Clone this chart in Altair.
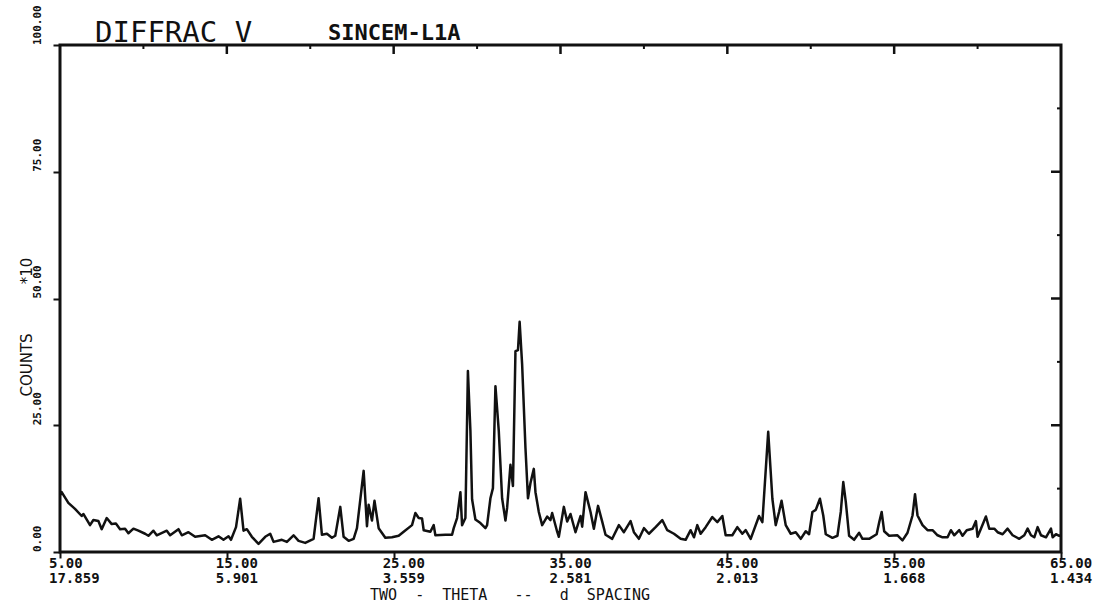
import altair as alt
import pandas as pd

# Diffraction trace: two-theta (degrees) and counts (x10)
two_theta = [
    5.0, 5.1, 5.5, 5.9, 6.3, 6.4, 6.8, 7.0, 7.3, 7.5, 7.8, 8.1, 8.35, 8.6, 8.9,
    9.1, 9.4, 9.7, 10.1, 10.3, 10.6, 10.8, 11.4, 11.6, 12.1, 12.3, 12.7, 13.1,
    13.7, 14.1, 14.5, 14.8, 15.1, 15.25, 15.55, 15.8, 16.0, 16.2, 16.5, 16.9,
    17.3, 17.6, 17.8, 18.3, 18.6, 19.0, 19.3, 19.7, 20.2, 20.5, 20.7, 21.0,
    21.3, 21.5, 21.8, 22.0, 22.3, 22.6, 22.8, 23.2, 23.4, 23.5, 23.7, 23.85,
    24.1, 24.5, 24.9, 25.3, 25.6, 26.1, 26.3, 26.5, 26.7, 26.8, 27.2, 27.4,
    27.5, 28.1, 28.5, 28.6, 28.8, 29.0, 29.1, 29.3, 29.45, 29.6, 29.7, 29.9,
    30.2, 30.5, 30.6, 30.8, 30.95, 31.1, 31.3, 31.5, 31.7, 31.8, 32.0, 32.15,
    32.3, 32.45, 32.55, 32.7, 32.9, 33.05, 33.2, 33.4, 33.5, 33.7, 33.9, 34.2,
    34.4, 34.5, 34.8, 34.9, 35.2, 35.4, 35.6, 35.9, 36.2, 36.3, 36.5, 36.8,
    37.0, 37.25, 37.5, 37.7, 38.1, 38.5, 38.8, 39.2, 39.4, 39.7, 40.0, 40.3,
    40.7, 41.1, 41.4, 41.8, 42.2, 42.5, 42.8, 43.0, 43.2, 43.4, 43.7, 44.1,
    44.4, 44.7, 44.9, 45.3, 45.6, 45.9, 46.1, 46.4, 46.9, 47.1, 47.45, 47.7,
    47.9, 48.1, 48.25, 48.5, 48.8, 49.1, 49.4, 49.7, 49.9, 50.1, 50.3, 50.55,
    50.75, 50.9, 51.3, 51.6, 51.8, 51.95, 52.1, 52.3, 52.6, 52.9, 53.1, 53.5,
    53.95, 54.1, 54.25, 54.4, 54.7, 55.2, 55.5, 55.8, 56.1, 56.25, 56.4, 56.7,
    57.0, 57.3, 57.6, 57.9, 58.2, 58.4, 58.6, 58.9, 59.1, 59.35, 59.7, 59.9,
    60.0, 60.2, 60.5, 60.7, 61.0, 61.2, 61.5, 61.8, 62.1, 62.5, 62.8, 63.0,
    63.2, 63.4, 63.6, 63.8, 64.1, 64.4, 64.5, 64.7, 64.9, 65.0,
]
counts = [
    11.2, 11.8, 9.7, 8.5, 7.1, 7.5, 5.3, 6.3, 6.1, 4.5, 6.7, 5.5, 5.6, 4.5, 4.6,
    3.7, 4.6, 4.2, 3.6, 3.2, 4.2, 3.3, 4.2, 3.3, 4.5, 3.3, 3.9, 3.0,
    3.3, 2.4, 3.1, 2.4, 3.1, 2.4, 4.9, 10.5, 4.2, 4.5, 3.0, 1.6,
    3.0, 3.6, 2.0, 2.4, 2.0, 3.3, 2.2, 1.8, 2.6, 10.6, 3.4, 3.6,
    2.8, 3.2, 8.9, 3.0, 2.2, 2.6, 4.7, 16.0, 5.1, 9.3, 6.2, 10.1,
    4.7, 2.8, 2.9, 3.2, 4.0, 5.3, 7.7, 6.7, 6.6, 4.3, 4.0, 5.3,
    3.3, 3.4, 3.4, 4.7, 6.7, 11.8, 5.3, 6.7, 35.7, 23.9, 10.4, 6.4,
    5.7, 4.7, 5.3, 10.6, 12.6, 32.7, 23.9, 10.6, 6.2, 8.7, 17.2, 13.0,
    39.6, 39.8, 45.4, 37.0, 20.5, 10.6, 13.6, 16.4, 11.8, 7.9, 5.3, 7.0,
    6.3, 7.7, 4.0, 3.0, 8.9, 6.0, 7.5, 3.9, 7.1, 5.0, 11.8, 7.9,
    4.6, 9.1, 6.0, 3.4, 2.6, 5.3, 3.9, 6.1, 3.9, 2.6, 4.7, 3.6,
    4.9, 6.3, 4.3, 3.6, 2.6, 2.4, 4.3, 2.9, 5.3, 3.6, 4.9, 6.9,
    5.9, 7.1, 3.3, 3.3, 4.9, 3.6, 4.3, 2.6, 7.1, 5.9, 23.7, 10.5,
    5.3, 7.9, 10.1, 5.3, 3.6, 3.9, 2.6, 4.1, 3.5, 7.9, 8.3, 10.5,
    7.2, 3.5, 2.8, 3.2, 7.9, 13.8, 9.9, 3.2, 2.4, 3.8, 2.6, 2.6,
    3.5, 5.8, 7.9, 4.1, 3.2, 3.3, 2.3, 3.8, 7.2, 11.4, 7.2, 5.3,
    4.3, 4.3, 3.3, 2.9, 2.9, 4.3, 3.3, 4.3, 3.2, 4.3, 4.6, 6.1,
    3.0, 4.6, 7.0, 4.6, 4.6, 3.9, 3.5, 4.6, 3.3, 2.6, 3.3, 4.6,
    3.3, 2.9, 4.9, 3.3, 2.9, 4.6, 2.9, 3.5, 3.2, 3.3,
]

# Bottom axis: two-theta ticks with matching d-spacing (angstrom)
theta_ticks = [5, 15, 25, 35, 45, 55, 65]
theta_labels = ["5.00", "15.00", "25.00", "35.00", "45.00", "55.00", "65.00"]
d_spacing = ["17.859", "5.901", "3.559", "2.581", "2.013", "1.668", "1.434"]

# Top frame ticks
top_major = [15, 25, 35, 45, 55]
top_minor = [10, 20, 30, 40, 50, 60]

# Left axis ticks and right frame ticks
count_ticks = [0, 25, 50, 75, 100]
count_labels = ["0.00", "25.00", "50.00", "75.00", "100.00"]
right_major = [25, 50, 75]
right_minor = [12.5, 37.5, 62.5, 87.5]

W, H = 1001, 507
INK = "#111111"
MONO = "DejaVu Sans Mono"
NB = "\u00a0"  # non-breaking space keeps the wide plotter spacing in SVG text

xs = alt.Scale(domain=[5, 65], nice=False, zero=False)
ys = alt.Scale(domain=[0, 100], nice=False, zero=True)
x_axis = alt.Axis(values=theta_ticks, labels=False, title=None, grid=False,
                  domain=False, tickSize=6, tickWidth=2, tickColor=INK)
y_axis = alt.Axis(values=count_ticks, labels=False, title=None, grid=False,
                  domain=False, tickSize=7, tickWidth=2, tickColor=INK)
X = alt.X("two_theta:Q", scale=xs, axis=x_axis)
Y = alt.Y("counts:Q", scale=ys, axis=y_axis)

trace_df = pd.DataFrame({"two_theta": two_theta, "counts": counts})
trace = alt.Chart(trace_df).mark_line(
    color=INK, strokeWidth=2.5, strokeJoin="round", interpolate="linear"
).encode(x=X, y=Y)

ticks_df = pd.DataFrame({"two_theta": theta_ticks, "lab": theta_labels, "d": d_spacing})
theta_text = alt.Chart(ticks_df).mark_text(
    font=MONO, fontWeight="bold", fontSize=14, align="left", baseline="middle",
    dx=-11, color=INK
).encode(x=X, y=alt.value(H + 12), text="lab:N")
d_text = alt.Chart(ticks_df).mark_text(
    font=MONO, fontWeight="bold", fontSize=14, align="left", baseline="middle",
    dx=-11, color=INK
).encode(x=X, y=alt.value(H + 27), text="d:N")

top_maj = alt.Chart(pd.DataFrame({"two_theta": top_major})).mark_rule(
    color=INK, strokeWidth=2.5
).encode(x=X, y=alt.value(0), y2=alt.value(9))
top_min = alt.Chart(pd.DataFrame({"two_theta": top_minor})).mark_rule(
    color=INK, strokeWidth=2
).encode(x=X, y=alt.value(0), y2=alt.value(4))

right_maj = alt.Chart(pd.DataFrame({"counts": right_major})).mark_rule(
    color=INK, strokeWidth=2.5
).encode(y=Y, x=alt.value(W), x2=alt.value(W - 10))
right_min = alt.Chart(pd.DataFrame({"counts": right_minor})).mark_rule(
    color=INK, strokeWidth=2
).encode(y=Y, x=alt.value(W), x2=alt.value(W - 4))

count_text = alt.Chart(pd.DataFrame({"counts": count_ticks, "lab": count_labels})).mark_text(
    font=MONO, fontWeight="bold", fontSize=11, angle=270, align="left",
    baseline="middle", color=INK
).encode(y=Y, x=alt.value(-22), text="lab:N")

def note(text, x, y, **style):
    return alt.Chart(pd.DataFrame({"t": [text]})).mark_text(color=INK, **style).encode(
        x=alt.value(x), y=alt.value(y), text="t:N")

x_title_text = NB.join(["TWO", "", "-", "", "THETA", "", "", "--", "", "", "d", "", "SPACING"])

title_main = note("DIFFRAC V", 35, -12, font=MONO, fontSize=29, align="left",
                  baseline="middle")
title_sample = note("SINCEM-L1A", 268, -12, font=MONO, fontSize=22, fontWeight="bold",
                    align="left", baseline="middle")
x_title = note(x_title_text, 310, H + 43, font=MONO, fontSize=15,
               align="left", baseline="middle")
y_title_a = note("COUNTS", -33, 320, font="DejaVu Sans", fontSize=15, angle=270,
                 align="center", baseline="middle")
y_title_b = note("*10", -33, 226, font="DejaVu Sans", fontSize=15, angle=270,
                 align="center", baseline="middle")

chart = alt.layer(
    trace, top_maj, top_min, right_maj, right_min,
    theta_text, d_text, count_text,
    title_main, title_sample, x_title, y_title_a, y_title_b,
).properties(
    width=W, height=H,
    padding={"left": 60, "top": 45, "right": 41, "bottom": 51},
    autosize=alt.AutoSizeParams(type="none"),
    background="white",
).configure_view(stroke=INK, strokeWidth=3)

chart.save("out.html", embed_options={"renderer": "svg", "actions": False})
